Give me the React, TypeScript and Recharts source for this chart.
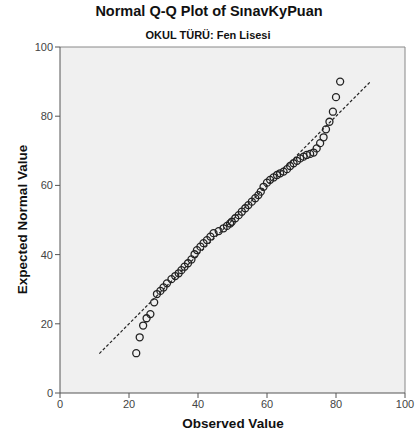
import React from "react";
import {
  ScatterChart,
  Scatter,
  XAxis,
  YAxis,
  CartesianGrid,
  ReferenceLine,
} from "recharts";

// observed values (sorted) and their expected normal values
const observed = [
  22.1, 23.1, 24.1, 25.1, 26.2, 27.3, 28.1, 29.1, 30.0, 31.0, 32.3, 33.4,
  34.4, 35.2, 36.1, 37.1, 38.1, 39.0, 39.7, 40.7, 41.6, 42.6, 43.6, 44.5,
  46.0, 47.4, 48.4, 49.3, 49.8, 50.8, 51.8, 52.7, 53.7, 54.6, 55.6, 56.6,
  57.5, 58.2, 59.0, 60.0, 60.9, 61.9, 62.9, 63.8, 64.8, 65.8, 66.7, 67.7,
  68.7, 69.6, 70.6, 71.5, 72.5, 73.5, 74.4, 75.4, 76.4, 77.1, 78.1, 79.1,
  80.0, 81.2,
];
const expected = [
  11.5, 16.1, 19.5, 21.6, 22.8, 26.2, 28.6, 29.5, 30.5, 31.7, 32.9, 33.8,
  34.6, 35.5, 36.5, 37.5, 38.6, 40.1, 41.3, 42.3, 43.3, 44.2, 45.2, 46.2,
  46.8, 47.6, 48.3, 49.0, 49.5, 50.5, 51.4, 52.4, 53.4, 54.3, 55.3, 56.3,
  57.2, 58.2, 59.6, 60.8, 61.6, 62.3, 63.0, 63.5, 64.0, 64.7, 65.6, 66.4,
  67.1, 67.8, 68.3, 68.8, 69.1, 69.5, 70.7, 72.2, 73.9, 76.2, 78.4, 81.3,
  85.5, 90.0,
];
const lineStart = 11.4;
const lineEnd = 90.2;
const ticks = [0, 20, 40, 60, 80, 100];

const points = observed.map((x, i) => ({ x, y: expected[i] }));

const ring = (p: any) => (
  <circle cx={p.cx} cy={p.cy} r={3.5} fill="none" stroke="#222" strokeWidth={1.3} />
);

export default function App() {
  const font = "'Liberation Sans', Arial, sans-serif";
  return (
    <div
      style={{
        position: "absolute",
        left: 0,
        top: 0,
        width: 416,
        height: 441,
        background: "#fff",
        fontFamily: font,
      }}
    >
      <div
        style={{
          position: "absolute",
          top: 3,
          width: 418,
          textAlign: "center",
          fontSize: 14.5,
          fontWeight: "bold",
          color: "#111",
        }}
      >
        Normal Q-Q Plot of SınavKyPuan
      </div>
      <div
        style={{
          position: "absolute",
          top: 29,
          width: 416,
          textAlign: "center",
          fontSize: 11,
          fontWeight: "bold",
          color: "#111",
        }}
      >
        OKUL TÜRÜ: Fen Lisesi
      </div>
      <div
        style={{
          position: "absolute",
          left: 22 - 90,
          top: 220 - 8,
          width: 180,
          textAlign: "center",
          fontSize: 13.5,
          fontWeight: "bold",
          color: "#111",
          transform: "rotate(-90deg)",
        }}
      >
        Expected Normal Value
      </div>
      <div
        style={{
          position: "absolute",
          left: 233 - 90,
          top: 416,
          width: 180,
          textAlign: "center",
          fontSize: 13.5,
          fontWeight: "bold",
          color: "#111",
        }}
      >
        Observed Value
      </div>
      <ScatterChart
        width={416}
        height={441}
        margin={{ top: 47, right: 11, left: 0, bottom: 0 }}
        style={{ position: "absolute", left: 0, top: 0 }}
      >
        <CartesianGrid fill="#f0f0f0" horizontal={false} vertical={false} />
        <XAxis
          type="number"
          dataKey="x"
          domain={[0, 100]}
          ticks={ticks}
          height={48}
          tickSize={5}
          stroke="#555"
          tick={{ fill: "#444", fontSize: 11, fontFamily: font }}
        />
        <YAxis
          type="number"
          dataKey="y"
          domain={[0, 100]}
          ticks={ticks}
          width={60}
          tickSize={5}
          stroke="#555"
          tick={{ fill: "#444", fontSize: 11, fontFamily: font }}
        />
        <ReferenceLine y={100} stroke="#888" />
        <ReferenceLine x={100} stroke="#888" />
        <ReferenceLine
          segment={[
            { x: lineStart, y: lineStart },
            { x: lineEnd, y: lineEnd },
          ]}
          stroke="#222"
          strokeWidth={1.2}
          strokeDasharray="3 2"
        />
        <Scatter data={points} shape={ring} isAnimationActive={false} />
      </ScatterChart>
    </div>
  );
}
